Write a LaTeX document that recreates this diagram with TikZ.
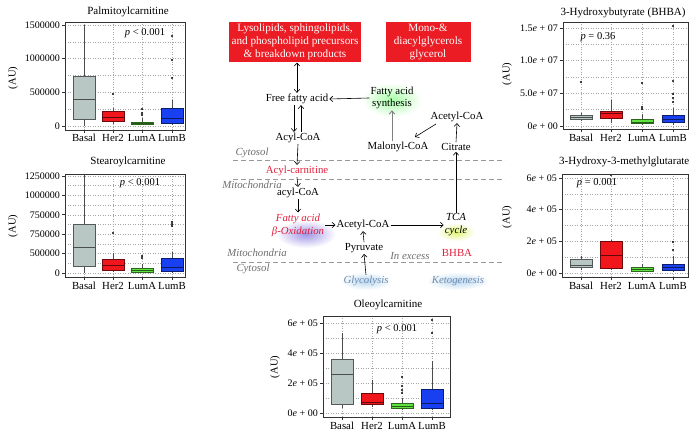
\documentclass[tikz,border=0pt]{standalone}
\usepackage{fontspec}
\setmainfont{Liberation Serif}
\usepackage{xcolor}
\usepackage{tikz}
\usetikzlibrary{arrows.meta}

\definecolor{basalc}{RGB}{184,198,196}
\definecolor{her2c}{RGB}{240,22,28}
\definecolor{lumac}{RGB}{96,226,64}
\definecolor{lumbc}{RGB}{24,64,240}
\definecolor{redbx}{RGB}{236,28,36}
\definecolor{redtx}{RGB}{226,30,60}
\definecolor{regtx}{RGB}{110,110,110}
\definecolor{bluetx}{RGB}{110,140,175}

% one box with whiskers: x, top, q3, median, q1, bottom, colour
\newcommand{\bwbox}[7]{%
  \draw[whisk] (#1,#2) -- (#1,#3) (#1,#5) -- (#1,#6);
  \draw[fill=#7, draw=#7!45!black, line width=0.6pt] (#1-11,#3) rectangle (#1+11,#5);
  \draw[draw=#7!40!black, line width=0.6pt] (#1-11,#4) -- (#1+11,#4);
}
\newcommand{\outl}[2]{\fill (#1,#2) circle[radius=1.1pt];}

\tikzset{
  gridln/.style={gray!70, dotted, line width=0.5pt},
  whisk/.style={gray!60!black, line width=0.7pt},
  frm/.style={gray!40!black, line width=0.6pt},
  ttl/.style={font=\fontsize{11}{12}\selectfont, inner sep=0pt},
  ticklab/.style={font=\fontsize{10}{12}\selectfont, anchor=east, inner sep=0pt},
  xlab/.style={font=\fontsize{10.8}{12}\selectfont, inner sep=0pt},
  pval/.style={font=\fontsize{10.5}{12}\selectfont, inner sep=0pt},
  aulab/.style={font=\fontsize{10.5}{12}\selectfont, rotate=90, inner sep=0pt},
  pw/.style={font=\fontsize{10.8}{12.5}\selectfont, inner sep=1pt, align=center},
  redbox/.style={fill=redbx, text=white, align=center, inner sep=2pt,
    font=\fontsize{11.2}{13.3}\selectfont},
  reg/.style={font=\fontsize{10.8}{12}\selectfont\itshape, text=regtx, inner sep=0pt},
  memb/.style={gray!80, dash pattern=on 5pt off 3pt, line width=0.6pt},
  flow/.style={-{Straight Barb[length=3pt,width=5.5pt]}, line width=0.6pt},
  dflow/.style={{Straight Barb[length=3pt,width=5.5pt]}-{Straight Barb[length=3pt,width=5.5pt]}, line width=0.6pt}
}

\begin{document}
\begin{tikzpicture}[x=1pt,y=-1pt]
\useasboundingbox (0,0) rectangle (697,435);

% ---------- Palmitoylcarnitine
\node[ttl] (t1) at (128,12) {Palmitoylcarnitine};
\foreach \y in {25,41.8,58.7,75.5,92.3,109.2,126} \draw[gridln] (65,\y) -- (185,\y);
\foreach \x/\t [count=\i] in {84/Basal,113/Her2,142/LumA,172/LumB} {
  \draw[gridln] (\x,22) -- (\x,130);
  \draw[frm] (\x,130) -- (\x,133);
  \node[xlab] (x1-\i) at (\x,138) {\t};
}
\foreach \y/\t [count=\i] in {25/1500000,58.7/1000000,92.3/500000,126/0} {
  \draw[frm] (62,\y) -- (65,\y);
  \node[ticklab] (y1-\i) at (60,\y) {\t};
}
\node[aulab] (au1) at (13,78) {(AU)};
\bwbox{84}{25}{76}{99}{119}{126}{basalc}
\bwbox{113}{108}{111}{117}{121}{124}{her2c}
\bwbox{142}{118}{122}{123}{124}{125}{lumac}
\bwbox{172}{100}{108}{118}{123}{125}{lumbc}
\outl{113}{94} \outl{142}{109} \outl{142}{113} \outl{142}{115}
\outl{172}{36} \outl{172}{60} \outl{172}{78}
\node[pval] (pv1) at (145,33) {\textit{p} < 0.001};
\draw[frm] (65,22) rectangle (185,130);

% ---------- Stearoylcarnitine
\node[ttl] (t2) at (128,162) {Stearoylcarnitine};
\foreach \y in {176,185.7,195.4,205.1,214.8,224.5,234.2,243.9,253.6,263.3,273} \draw[gridln] (65,\y) -- (185,\y);
\foreach \x/\t [count=\i] in {84/Basal,113/Her2,142/LumA,172/LumB} {
  \draw[gridln] (\x,174) -- (\x,277);
  \draw[frm] (\x,277) -- (\x,280);
  \node[xlab] (x2-\i) at (\x,286) {\t};
}
\foreach \y/\t [count=\i] in {176/1250000,195.4/1000000,214.8/750000,234.2/750000,253.6/500000,273/0} {
  \draw[frm] (62,\y) -- (65,\y);
  \node[ticklab] (y2-\i) at (60,\y) {\t};
}
\node[aulab] (au2) at (13,226) {(AU)};
\bwbox{84}{174}{224}{247}{266}{273}{basalc}
\bwbox{113}{253}{259}{265}{270}{272}{her2c}
\bwbox{142}{264}{268}{270}{272}{273}{lumac}
\bwbox{172}{252}{258}{267}{271}{273}{lumbc}
\outl{113}{233} \outl{142}{256} \outl{142}{258}
\outl{172}{222} \outl{172}{224} \outl{172}{226}
\node[pval] (pv2) at (140,183) {\textit{p} < 0.001};
\draw[frm] (65,174) rectangle (185,277);

% ---------- 3-Hydroxybutyrate
\node[ttl] (t3) at (623,13) {3-Hydroxybutyrate (BHBA)};
\foreach \y in {28,44.3,60.7,77,93.3,109.7,126} \draw[gridln] (563,\y) -- (688,\y);
\foreach \x/\t [count=\i] in {581/Basal,611/Her2,642/LumA,673/LumB} {
  \draw[gridln] (\x,22) -- (\x,129);
  \draw[frm] (\x,129) -- (\x,132);
  \node[xlab] (x3-\i) at (\x,138) {\t};
}
\foreach \y/\t [count=\i] in {28/{1.5\textit{e} + 07},60.7/{1.0\textit{e} + 07},93.3/{5.0\textit{e} + 07},126/{0\textit{e} + 00}} {
  \draw[frm] (560,\y) -- (563,\y);
  \node[ticklab] (y3-\i) at (558,\y) {\t};
}
\node[aulab] (au3) at (507,74) {(AU)};
\bwbox{581}{113}{115}{117}{119}{121}{basalc}
\bwbox{611}{100}{111}{113}{118}{123}{her2c}
\bwbox{642}{114}{119}{122}{123}{125}{lumac}
\bwbox{673}{108}{115}{119}{122}{125}{lumbc}
\outl{581}{82} \outl{642}{83} \outl{642}{107} \outl{642}{109}
\outl{673}{26} \outl{673}{81} \outl{673}{94} \outl{673}{98} \outl{673}{102}
\node[pval] (pv3) at (598,37) {\textit{p} = 0.36};
\draw[frm] (563,22) rectangle (688,129);

% ---------- 3-Hydroxy-3-methylglutarate
\node[ttl, anchor=west] (t4) at (559,162) {3-Hydroxy-3-methylglutarate};
\foreach \y in {178,193.8,209.7,225.5,241.3,257.2,273} \draw[gridln] (562,\y) -- (688,\y);
\foreach \x/\t [count=\i] in {581/Basal,611/Her2,642/LumA,673/LumB} {
  \draw[gridln] (\x,174) -- (\x,277);
  \draw[frm] (\x,277) -- (\x,280);
  \node[xlab] (x4-\i) at (\x,286) {\t};
}
\foreach \y/\t [count=\i] in {178/{6\textit{e} + 05},209.7/{4\textit{e} + 05},241.3/{2\textit{e} + 05},273/{0\textit{e} + 00}} {
  \draw[frm] (559,\y) -- (562,\y);
  \node[ticklab] (y4-\i) at (557,\y) {\t};
}
\node[aulab] (au4) at (507,217) {(AU)};
\bwbox{581}{256}{259}{265}{267}{270}{basalc}
\bwbox{611}{240}{241}{255}{268}{270}{her2c}
\bwbox{642}{264}{267}{269}{271}{272}{lumac}
\bwbox{673}{256}{264}{267}{270}{272}{lumbc}
\outl{611}{175} \outl{673}{242} \outl{673}{250}
\node[pval] (pv4) at (597,183) {\textit{p} = 0.001};
\draw[frm] (562,174) rectangle (688,277);

% ---------- Oleoylcarnitine
\node[ttl] (t5) at (388,305) {Oleoylcarnitine};
\foreach \y in {323,338,353,368,383,398,413} \draw[gridln] (323,\y) -- (450,\y);
\foreach \x/\t [count=\i] in {342/Basal,372/Her2,402/LumA,432/LumB} {
  \draw[gridln] (\x,316) -- (\x,417);
  \draw[frm] (\x,417) -- (\x,420);
  \node[xlab] (x5-\i) at (\x,426) {\t};
}
\foreach \y/\t [count=\i] in {323/{6\textit{e} + 05},353/{4\textit{e} + 05},383/{2\textit{e} + 05},413/{0\textit{e} + 00}} {
  \draw[frm] (320,\y) -- (323,\y);
  \node[ticklab] (y5-\i) at (318,\y) {\t};
}
\node[aulab] (au5) at (275,367) {(AU)};
\bwbox{342}{333}{359}{374}{404}{408}{basalc}
\bwbox{372}{380}{393}{402}{404}{407}{her2c}
\bwbox{402}{398}{403}{406}{408}{410}{lumac}
\bwbox{432}{361}{389}{403}{408}{410}{lumbc}
\outl{402}{377} \outl{402}{386} \outl{402}{390} \outl{402}{393}
\outl{432}{320} \outl{432}{333}
\node[pval] (pv5) at (397,329) {\textit{p} < 0.001};
\draw[frm] (323,316) rectangle (450,417);

% ---------- pathway: glows
\shade[inner color=green!35, outer color=white] (392,100) ellipse (30 and 17);
\shade[inner color={rgb,255:red,160;green,150;blue,230}, outer color=white] (306,234) ellipse (30 and 14);
\shade[inner color={rgb,255:red,225;green,245;blue,110}, outer color=white] (456,232) ellipse (19 and 9);
\shade[inner color={rgb,255:red,185;green,215;blue,240}, outer color=white] (366,281) ellipse (26 and 9);
\shade[inner color={rgb,255:red,185;green,215;blue,240}, outer color=white] (458,281) ellipse (32 and 9);

% membranes
\draw[memb] (233,160) -- (505,160);
\draw[memb] (233,179) -- (505,179);
\draw[memb] (233,262) -- (505,262);
\node[reg] (cyt1) at (252,153) {Cytosol};
\node[reg] (mit1) at (252,185) {Mitochondria};
\node[reg] (mit2) at (257,253) {Mitochondria};
\node[reg] (exc) at (410,256) {In excess};
\node[reg] (cyt2) at (253,269) {Cytosol};

% metabolites
\node[redbox, minimum width=132, minimum height=40] (lyso) at (295,42) {Lysolipids, sphingolipids,\\and phospholipid precursors\\\& breakdown products};
\node[redbox, minimum width=85, minimum height=40] (mono) at (428,42) {Mono-\&\\diacylglycerols\\glycerol};
\node[pw] (ffa) at (297,99) {Free fatty acid};
\node[pw] (fas) at (392,98) {Fatty acid\\synthesis};
\node[pw] (acoa1) at (298,138) {Acyl-CoA};
\node[pw] (malo) at (398,147) {Malonyl-CoA};
\node[pw] (acet1) at (457,117) {Acetyl-CoA};
\node[pw] (citr) at (456,147) {Citrate};
\node[pw, text=redtx] (acar) at (297,171) {Acyl-carnitine};
\node[pw] (acoa2) at (298,193) {acyl-CoA};
\node[pw, text=redtx, font=\fontsize{10.8}{13}\selectfont\itshape] (box) at (298,225) {Fatty acid\\β-Oxidation};
\node[pw] (acet2) at (363,225) {Acetyl-CoA};
\node[pw, font=\fontsize{10.8}{13}\selectfont\itshape] (tca) at (456,225) {TCA\\cycle};
\node[pw] (pyr) at (364,248) {Pyruvate};
\node[pw, text=redtx] (bhba) at (457,253) {BHBA};
\node[pw, text=bluetx, font=\fontsize{10.8}{12}\selectfont\itshape] (glyc) at (366,281) {Glycolysis};
\node[pw, text=bluetx, font=\fontsize{10.8}{12}\selectfont\itshape] (keto) at (458,281) {Ketogenesis};

% arrows
\draw[dflow] (lyso.south -| ffa) -- (ffa.north);
\draw[flow] (fas.west) -- (ffa.east);
\draw[flow, gray, line width=0.9pt] (fas.south |- malo.north) -- (fas.south);
\draw[flow] ([shift={(-21,7)}]acet1.center) -- ([shift={(17,-10)}]malo.center);
\draw[flow] (citr.north) -- (acet1.south);
\draw[flow] ([xshift=-3pt]ffa.south) -- ([xshift=-3pt]ffa.south |- acoa1.north);
\draw[flow] ([xshift=3pt]acoa1.north) -- ([xshift=3pt]acoa1.north |- ffa.south);
\draw[flow] (acoa1.south) -- (acar.north);
\draw[flow] (acar.south) -- (acoa2.north);
\draw[flow] (acoa2.south) -- (box.north);
\draw[flow] (box.east) -- (acet2.west);
\draw[flow] (acet2.east) -- (tca.west);
\draw[flow] (tca.north) -- (citr.south);
\draw[flow] (pyr.north) -- (acet2.south);
\draw[flow] (glyc.north) -- (pyr.south);
\end{tikzpicture}
\end{document}
